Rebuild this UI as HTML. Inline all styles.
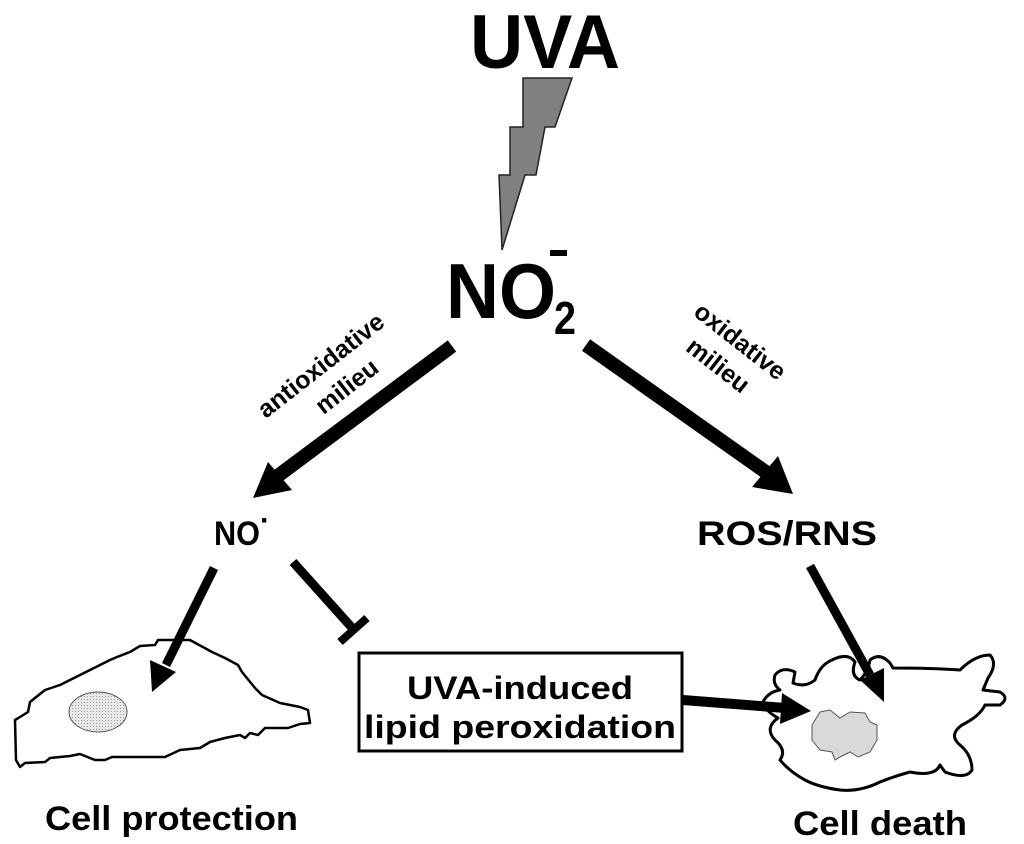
<!DOCTYPE html>
<html><head><meta charset="utf-8"><style>html,body{margin:0;padding:0;background:#fff}svg{display:block}</style></head>
<body>
<svg width="1024" height="844" viewBox="0 0 1024 844" xmlns="http://www.w3.org/2000/svg" font-family="'Liberation Sans',Arial,sans-serif" font-weight="bold">
<defs>
<pattern id="dots" width="3" height="3" patternUnits="userSpaceOnUse"><rect width="3" height="3" fill="#e8e8e8"/><rect width="1" height="1" fill="#999"/></pattern>
</defs>
<text x="545" y="68" font-size="76" text-anchor="middle" textLength="150" lengthAdjust="spacingAndGlyphs">UVA</text>
<polygon points="523,78 572,78 555,127 545,127 536,175 525,175 502,250 499,175 510,175 510,127 523,127" fill="#808080" stroke="#222" stroke-width="1.5"/>
<text x="446" y="318" font-size="78" textLength="110" lengthAdjust="spacingAndGlyphs">NO</text>
<text x="554" y="334" font-size="46" textLength="22" lengthAdjust="spacingAndGlyphs">2</text>
<rect x="550" y="250" width="17" height="6" fill="#000"/>
<!-- main arrows -->
<line x1="452" y1="346" x2="275" y2="478" stroke="#000" stroke-width="14"/>
<polygon points="253,498 268,462 292,490" fill="#000"/>
<line x1="586" y1="345" x2="770" y2="475" stroke="#000" stroke-width="14"/>
<polygon points="793,494 752,487 778,456" fill="#000"/>
<g font-size="25">
<text transform="translate(326,372) rotate(-38)" text-anchor="middle">antioxidative</text>
<text transform="translate(352,393) rotate(-38)" text-anchor="middle">milieu</text>
<text transform="translate(735,348) rotate(38)" text-anchor="middle">oxidative</text>
<text transform="translate(713,372) rotate(38)" text-anchor="middle">milieu</text>
</g>
<text x="214" y="545" font-size="34" textLength="46" lengthAdjust="spacingAndGlyphs">NO</text>
<text x="260" y="530" font-size="30">·</text>
<text x="697" y="545" font-size="34" textLength="180" lengthAdjust="spacingAndGlyphs">ROS/RNS</text>
<!-- lower arrows -->
<line x1="214" y1="568" x2="166" y2="665" stroke="#000" stroke-width="9"/>
<polygon points="152,692 150,660 176,672" fill="#000"/>
<line x1="293" y1="562" x2="354" y2="630" stroke="#000" stroke-width="9"/>
<line x1="340" y1="642" x2="367" y2="618" stroke="#000" stroke-width="8"/>
<line x1="810" y1="566" x2="870" y2="675" stroke="#000" stroke-width="9"/>
<polygon points="884,702 860,680 884,668" fill="#000"/>
<rect x="359" y="653" width="323" height="98" fill="#fff" stroke="#000" stroke-width="3"/>
<text x="520" y="699" font-size="32" text-anchor="middle" textLength="226" lengthAdjust="spacingAndGlyphs">UVA-induced</text>
<text x="520" y="738" font-size="32" text-anchor="middle" textLength="312" lengthAdjust="spacingAndGlyphs">lipid peroxidation</text>
<line x1="683" y1="700" x2="785" y2="708" stroke="#000" stroke-width="10"/>
<polygon points="811,711 782,693 780,724" fill="#000"/>
<!-- left cell -->
<polygon points="15,720 16,760 20,767 25,763 45,762 50,758 70,756 80,754 95,760 105,760 112,757 165,757 180,750 200,748 210,742 225,738 240,735 245,738 250,733 258,735 265,728 288,728 300,724 310,723 308,710 300,707 280,703 262,695 255,688 242,672 238,665 225,658 212,652 190,640 158,640 155,645 140,646 130,652 117,657 110,660 100,665 80,675 60,685 45,690 30,702 28,712 20,717" fill="none" stroke="#000" stroke-width="2.5" stroke-linejoin="round"/>
<ellipse cx="98" cy="712" rx="29" ry="20" fill="url(#dots)" stroke="#555" stroke-width="1"/>
<!-- right cell -->
<path d="M775,675 Q782,666 795,672 L793,683 Q805,688 815,680 Q820,665 832,660 Q848,652 855,662 Q850,676 860,680 Q868,672 870,660 Q880,652 890,663 L893,668 Q930,668 960,670 Q975,655 990,655 Q998,664 988,678 L983,690 L1000,692 Q1010,698 1000,705 L985,705 Q980,716 962,725 Q948,735 960,745 Q972,755 972,770 Q966,780 945,772 L940,765 Q935,777 910,772 Q895,776 880,782 Q860,792 840,790 Q818,787 805,780 Q790,772 780,760 Q787,750 775,740 Q764,728 778,718 Q764,710 763,702 Q768,692 780,690 Q772,684 775,675 Z" fill="none" stroke="#000" stroke-width="3" stroke-linejoin="round"/>
<polygon points="812,725 820,712 830,710 840,718 850,712 865,713 870,722 877,725 877,740 870,752 858,757 850,752 840,757 835,760 832,752 820,750 812,740" fill="#d9d9d9" stroke="#555" stroke-width="1"/>
<text x="45" y="830" font-size="34" textLength="253" lengthAdjust="spacingAndGlyphs">Cell protection</text>
<text x="793" y="835" font-size="34" textLength="174" lengthAdjust="spacingAndGlyphs">Cell death</text>
</svg>
</body></html>
